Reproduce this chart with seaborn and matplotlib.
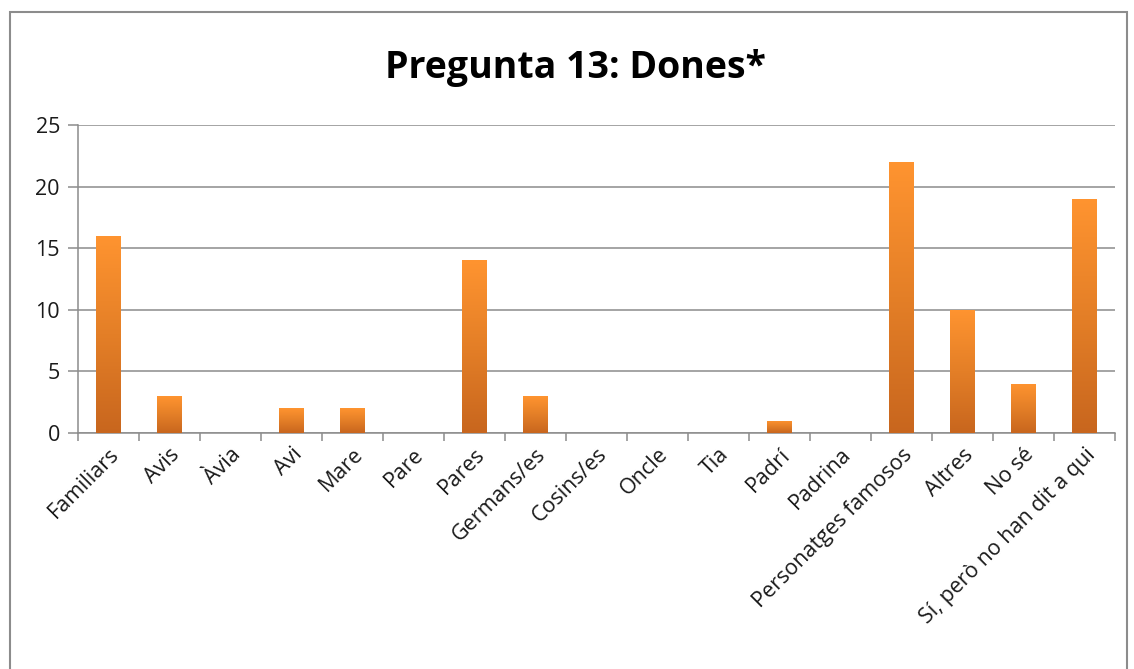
import numpy as np
import pandas as pd
import matplotlib
matplotlib.use("Agg")
import matplotlib.pyplot as plt
from matplotlib.colors import LinearSegmentedColormap
from matplotlib.patches import Rectangle
from matplotlib.ticker import FixedLocator
import seaborn as sns

categories = ["Familiars", "Avis", "Àvia", "Avi", "Mare", "Pare", "Pares", "Germans/es",
              "Cosins/es", "Oncle", "Tia", "Padrí", "Padrina", "Personatges famosos",
              "Altres", "No sé", "Sí, però no han dit a qui"]
values = [16, 3, 0, 2, 2, 0, 14, 3, 0, 0, 0, 1, 0, 22, 10, 4, 19]
yticks = [0, 5, 10, 15, 20, 25]

sns.set_style("white")
plt.rcParams['font.family'] = ['Open Sans', 'DejaVu Sans']

df = pd.DataFrame({"cat": categories, "val": values})

fig = plt.figure(figsize=(11.34, 6.69), dpi=100)
ax = fig.add_axes([0.0688, 0.3528, 0.9144, 0.4604])

sns.barplot(data=df, x="cat", y="val", color="#F28B2C", width=0.4, ax=ax, zorder=3)

# vertical orange gradient inside each bar
cmap = LinearSegmentedColormap.from_list("og", ["#C8661E", "#E47F27", "#FF9430"])
grad = np.linspace(0, 1, 256).reshape(-1, 1)
for p in ax.patches:
    h = p.get_height()
    p.set_facecolor("none")
    p.set_edgecolor("none")
    p.set_linewidth(0)
    if h <= 0:
        continue
    x0 = p.get_x()
    w = p.get_width()
    im = ax.imshow(grad, cmap=cmap, origin="lower", aspect="auto",
                   extent=[x0, x0 + w, 0, h], zorder=3)
    im.set_clip_path(p)

n = len(categories)
ax.set_xlim(-0.5, n - 0.5)
ax.set_ylim(0, 25)
ax.set_yticks(yticks)
ax.set_xlabel("")
ax.set_ylabel("")
ax.yaxis.grid(True, color="#8c8c8c", linewidth=1.1, zorder=0)
ax.set_axisbelow(True)

for s in ["top", "right"]:
    ax.spines[s].set_visible(False)
for s in ["left", "bottom"]:
    ax.spines[s].set_color("#8c8c8c")
    ax.spines[s].set_linewidth(1.1)

ax.set_xticks(range(n))
ax.set_xticklabels(categories, rotation=45, ha="right", rotation_mode="anchor",
                   fontsize=15.5, color="#1a1a1a")
# ticks at category boundaries
ax.xaxis.set_minor_locator(FixedLocator(np.arange(-0.5, n, 1)))
ax.tick_params(axis="x", which="major", length=0, pad=8)
ax.tick_params(axis="x", which="minor", bottom=True, length=6, color="#8c8c8c", width=1.1)
ax.tick_params(axis="y", left=True, length=7, color="#8c8c8c", width=1.1, labelsize=15.5, pad=6)
for t in ax.get_yticklabels():
    t.set_color("#1a1a1a")

fig.text(0.507, 0.898, "Pregunta 13: Dones*", ha="center", va="center",
         fontsize=27, fontweight="bold", color="black")

# outer chart frame
fig.patches.append(Rectangle((10 / 1134, -0.05), 1117 / 1134, 1 - 12 / 669 + 0.05,
                             transform=fig.transFigure, fill=False,
                             edgecolor="#8c8c8c", linewidth=1.5))

fig.savefig("out.png", dpi=100)
